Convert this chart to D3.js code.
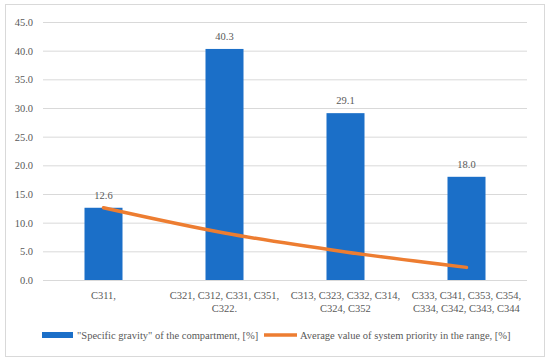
<!DOCTYPE html>
<html lang="en">
<head>
	<meta charset="utf-8">
	<script src="https://cdn.jsdelivr.net/npm/d3@7"></script>
	<style>
		body { margin: 0; background: #fff; }
		text { font-family: "Liberation Serif", "DejaVu Serif", serif; fill: #595959; }
	</style>
</head>
<body>
	<script>
		const categories = [
			["C311,"],
			["C321, C312, C331, C351,", "C322."],
			["C313, C323, C332, C314,", "C324, C352"],
			["C333, C341, C353, C354,", "C334, C342, C343, C344"]
		];
		const gravity = [12.6, 40.3, 29.1, 18.0];
		const priority = [12.6, 8.2, 4.9, 2.2];
		const yTicks = [0, 5, 10, 15, 20, 25, 30, 35, 40, 45];
		const legendLabels = ["\"Specific gravity\" of the compartment, [%]", "Average value of system priority in the range, [%]"];

		const width = 550, height = 361;
		const plotLeft = 43, plotRight = 527, plotTop = 22, plotBottom = 280;

		const svg = d3.select("body").append("svg")
			.attr("width", width)
			.attr("height", height);

		// outer frame
		svg.append("rect")
			.attr("x", 5.5).attr("y", 4.5)
			.attr("width", 539).attr("height", 352)
			.attr("fill", "#fff")
			.attr("stroke", "#d9d9d9");

		const x = d3.scaleBand()
			.domain(d3.range(categories.length))
			.range([plotLeft, plotRight]);

		const y = d3.scaleLinear()
			.domain([0, 45])
			.range([plotBottom, plotTop]);

		// gridlines + y labels
		const yAxis = svg.append("g")
			.attr("transform", `translate(${plotLeft},0)`)
			.call(d3.axisLeft(y).tickValues(yTicks).tickSize(-(plotRight - plotLeft)).tickFormat(d3.format(".1f")));
		yAxis.select(".domain").remove();
		yAxis.selectAll(".tick line").attr("stroke", "#d9d9d9");
		yAxis.selectAll(".tick text")
			.attr("x", -10)
			.style("font-size", "10.5px")
			.style("font-family", "Liberation Serif, serif")
			.attr("fill", "#595959");

		// bars
		const barW = 38;
		svg.selectAll(".bar")
			.data(gravity)
			.enter().append("rect")
			.attr("x", (d, i) => x(i) + x.bandwidth() / 2 - barW / 2)
			.attr("y", d => y(d))
			.attr("width", barW)
			.attr("height", d => y(0) - y(d))
			.attr("fill", "#1b6fc8");

		// value labels
		svg.selectAll(".val")
			.data(gravity)
			.enter().append("text")
			.attr("x", (d, i) => x(i) + x.bandwidth() / 2)
			.attr("y", d => y(d) - 9)
			.attr("text-anchor", "middle")
			.style("font-size", "10.5px")
			.text(d => d.toFixed(1));

		// orange line
		const line = d3.line()
			.x((d, i) => x(i) + x.bandwidth() / 2)
			.y(d => y(d))
			.curve(d3.curveCatmullRom);
		svg.append("path")
			.datum(priority)
			.attr("d", line)
			.attr("fill", "none")
			.attr("stroke", "#ed7d31")
			.attr("stroke-width", 3.5)
			.attr("stroke-linecap", "round");

		// category labels
		const cat = svg.selectAll(".cat")
			.data(categories)
			.enter().append("text")
			.attr("text-anchor", "middle")
			.style("font-size", "10.5px");
		cat.selectAll("tspan")
			.data((d, i) => d.map(s => ({ s, i })))
			.enter().append("tspan")
			.attr("x", d => x(d.i) + x.bandwidth() / 2)
			.attr("y", (d, j) => 299 + j * 12.5)
			.text(d => d.s);

		// legend
		svg.append("rect")
			.attr("x", 42).attr("y", 332)
			.attr("width", 31).attr("height", 6)
			.attr("fill", "#1b6fc8");
		svg.append("text")
			.attr("x", 77).attr("y", 338.5)
			.style("font-size", "10.5px")
			.text(legendLabels[0]);
		svg.append("line")
			.attr("x1", 264).attr("x2", 297)
			.attr("y1", 335).attr("y2", 335)
			.attr("stroke", "#ed7d31")
			.attr("stroke-width", 3.5);
		svg.append("text")
			.attr("x", 300).attr("y", 338.5)
			.style("font-size", "10.5px")
			.text(legendLabels[1]);
	</script>
</body>
</html>
